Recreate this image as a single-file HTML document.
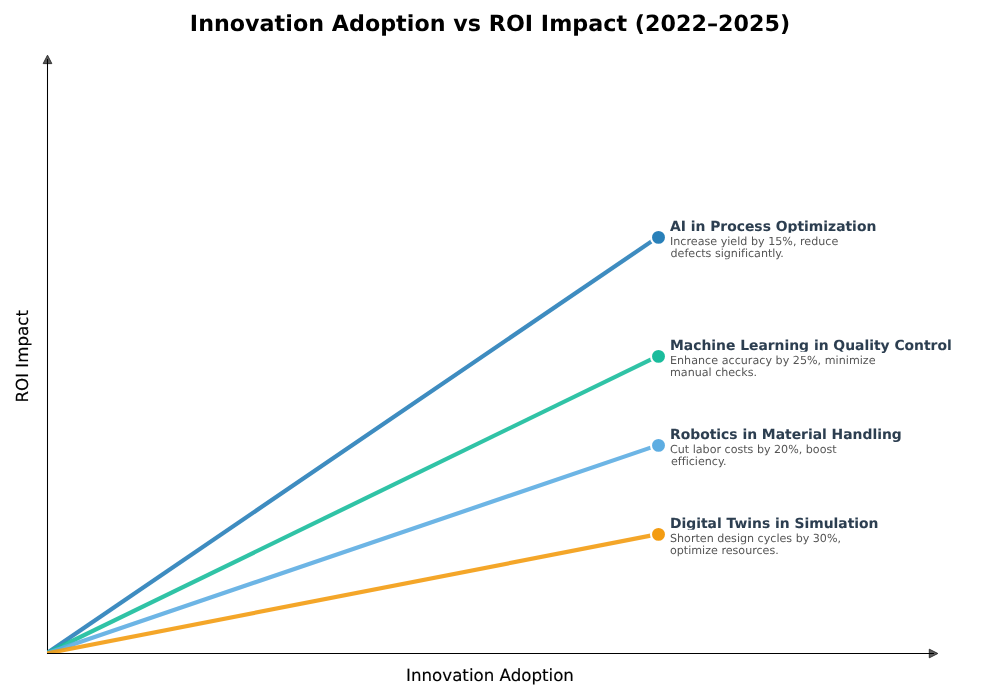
<!DOCTYPE html>
<html lang="en">
<head>
<meta charset="utf-8">
<title>Innovation Adoption vs ROI Impact (2022–2025)</title>
<style>
html,body{margin:0;padding:0;background:#fff;}
body{width:1000px;height:700px;overflow:hidden;}
svg{display:block;}
text{font-family:"DejaVu Sans","Liberation Sans",sans-serif;text-rendering:geometricPrecision;font-variant-ligatures:none;}
.title{font-size:22.22px;font-weight:bold;fill:#000;letter-spacing:0.02px;}
.axl{font-size:16.67px;fill:#000;stroke:#000;stroke-width:0.13px;}
.lt{font-size:13.89px;font-weight:bold;fill:#2c3e50;stroke:#2c3e50;stroke-width:0.06px;}
.ld{font-size:11.11px;fill:#555;}
</style>
</head>
<body>
<svg width="1000" height="700" viewBox="0 0 1000 700">
<rect width="1000" height="700" fill="#fff"/>
<text class="title" x="490" y="31.2" text-anchor="middle">Innovation Adoption vs ROI Impact (2022–2025)</text>
<!-- axes -->
<polygon points="47.5,55.2 51.8,63.6 43.2,63.6" fill="#5a5a5a" stroke="#333" stroke-width="1" stroke-linejoin="miter"/>
<polygon points="937.8,653.5 929.3,649.2 929.3,657.8" fill="#5a5a5a" stroke="#333" stroke-width="1" stroke-linejoin="miter"/>
<line x1="47.5" y1="654" x2="47.5" y2="59" stroke="#000" stroke-width="1.05"/>
<line x1="47" y1="653.5" x2="934" y2="653.5" stroke="#000" stroke-width="1.05"/>
<!-- lines -->
<defs><clipPath id="axclip"><rect x="47" y="59" width="887" height="594"/></clipPath></defs>
<g fill="none" stroke-width="4.2" stroke-linecap="square" stroke-opacity="0.9" clip-path="url(#axclip)">
<line x1="46.6" y1="653.4" x2="657.5" y2="237.3" stroke="#2980b9"/>
<line x1="46.6" y1="653.4" x2="657.5" y2="356.3" stroke="#1abc9c"/>
<line x1="46.6" y1="653.4" x2="657.5" y2="445.3" stroke="#5dade2"/>
<line x1="46.6" y1="653.4" x2="657.5" y2="534.3" stroke="#f39c12"/>
</g>
<g stroke="#fff" stroke-width="2.08">
<circle cx="658.5" cy="237.4" r="7.5" fill="#2980b9"/>
<circle cx="658.5" cy="356.4" r="7.5" fill="#1abc9c"/>
<circle cx="658.5" cy="445.4" r="7.5" fill="#5dade2"/>
<circle cx="658.5" cy="534.4" r="7.5" fill="#f39c12"/>
</g>
<!-- labels -->
<text class="lt" x="670" y="231">AI in Process Optimization</text>
<rect x="666.7" y="232.8" width="175.6" height="31" rx="3.3" fill="#fff"/>
<text class="ld" x="670" y="245" style="letter-spacing:0.015px">Increase yield by 15%, reduce</text>
<text class="ld" x="670.5" y="256.8">defects significantly.</text>
<text class="lt" x="670" y="350">Machine Learning in Quality Control</text>
<rect x="666.7" y="351.8" width="212.5" height="31" rx="3.3" fill="#fff"/>
<text class="ld" x="670" y="364" style="letter-spacing:0.03px">Enhance accuracy by 25%, minimize</text>
<text class="ld" x="670" y="375.8">manual checks.</text>
<text class="lt" x="670" y="439">Robotics in Material Handling</text>
<rect x="666.7" y="440.8" width="174.8" height="31" rx="3.3" fill="#fff"/>
<text class="ld" x="670" y="453">Cut labor costs by 20%, boost</text>
<text class="ld" x="671" y="464.8">efficiency.</text>
<text class="lt" x="670" y="528">Digital Twins in Simulation</text>
<rect x="666.7" y="529.8" width="178.6" height="31" rx="3.3" fill="#fff"/>
<text class="ld" x="670" y="542">Shorten design cycles by 30%,</text>
<text class="ld" x="670" y="554.2">optimize resources.</text>
<!-- axis labels -->
<text class="axl" x="490" y="680.6" text-anchor="middle">Innovation Adoption</text>
<text class="axl" transform="translate(27.8,356.3) rotate(-90)" text-anchor="middle">ROI Impact</text>
</svg>
</body>
</html>
